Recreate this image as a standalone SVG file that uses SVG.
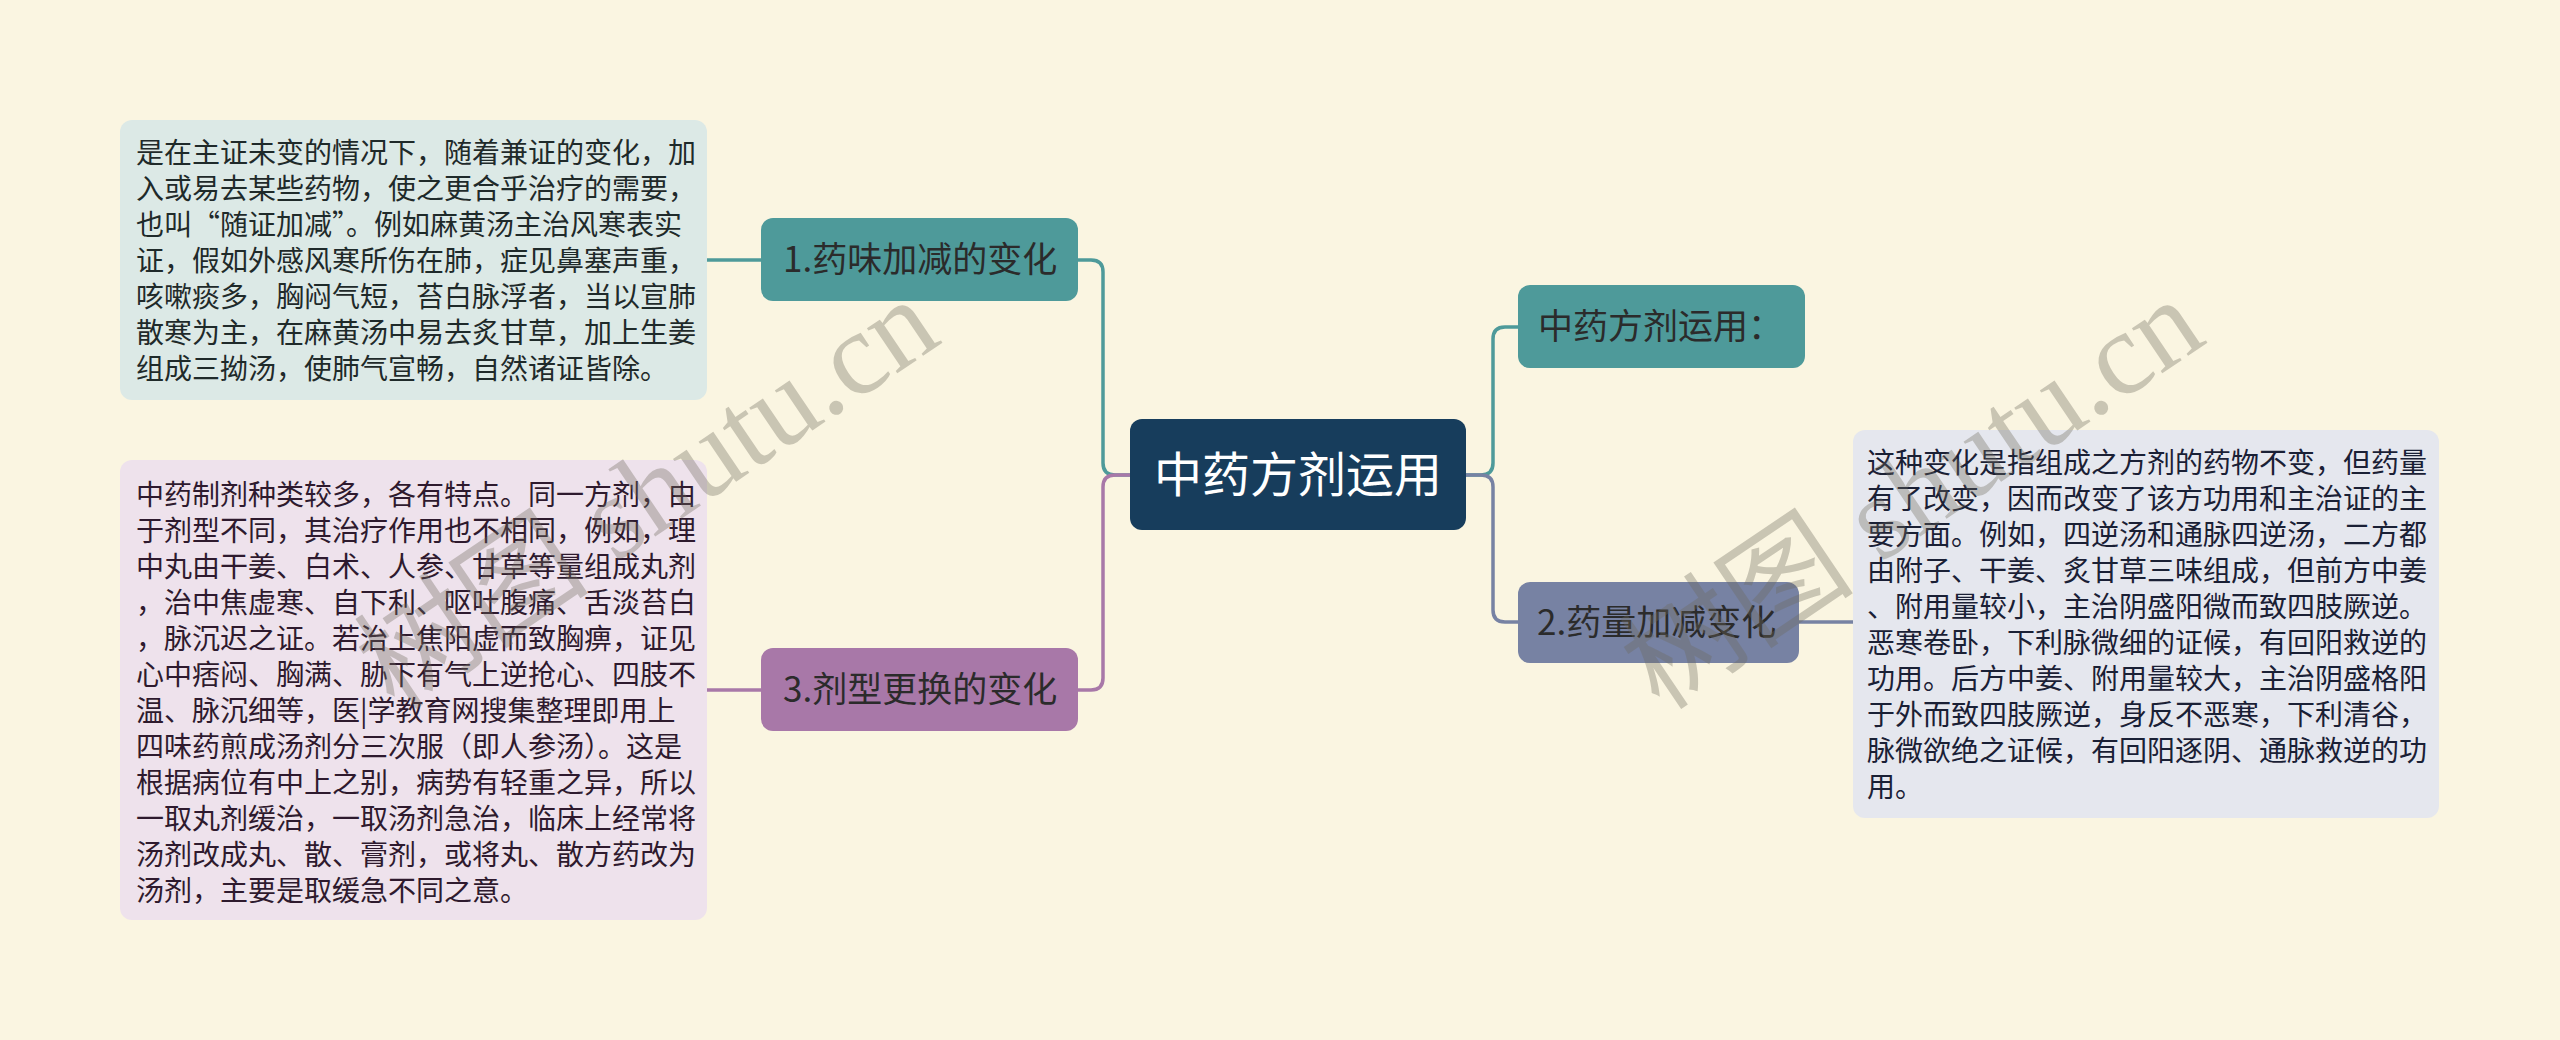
<svg xmlns="http://www.w3.org/2000/svg" width="2560" height="1040" viewBox="0 0 2560 1040">
<style>
.bg{fill:#faf5e1}
.leaf{font-family:"Noto Sans CJK SC","Noto Sans",sans-serif;font-size:28px}
.topic{font-family:"Noto Sans CJK SC","Noto Sans",sans-serif;font-size:35px;fill:#2b2b2b}
.root{font-family:"Noto Sans CJK SC","Noto Sans",sans-serif;font-size:48px;fill:#ffffff}
.conn{fill:none;stroke-width:3.5;stroke-linecap:round}
.wm{font-family:"Liberation Serif","Noto Sans CJK SC",serif;font-size:118px;fill:#6e6a5c;opacity:0.34}
</style>
<rect class="bg" x="0" y="0" width="2560" height="1040"/>
<g id="connectors">
<path class="conn" stroke="#4e9a9a" d="M1130 475 H1115 Q1103 475 1103 463 V272 Q1103 260 1091 260 H1078"/>
<path class="conn" stroke="#a878a8" d="M1130 475 H1115 Q1103 475 1103 487 V678 Q1103 690 1091 690 H1078"/>
<path class="conn" stroke="#4e9a9a" d="M1466 475 H1481 Q1493 475 1493 463 V339 Q1493 327 1505 327 H1518"/>
<path class="conn" stroke="#7782a3" d="M1466 475 H1481 Q1493 475 1493 487 V610 Q1493 622 1505 622 H1518"/>
<path class="conn" stroke="#4e9a9a" d="M761 260 H707"/>
<path class="conn" stroke="#a878a8" d="M761 690 H707"/>
<path class="conn" stroke="#7782a3" d="M1799 622 H1853"/>
</g>
<g id="leaf1">
<rect x="120" y="120" width="587" height="280" rx="12" fill="#dce9e6"/>
<text class="leaf" fill="#1f2a2a">
<tspan x="136" y="163">是在主证未变的情况下，随着兼证的变化，加</tspan>
<tspan x="136" y="199">入或易去某些药物，使之更合乎治疗的需要，</tspan>
<tspan x="136" y="235">也叫“随证加减”。例如麻黄汤主治风寒表实</tspan>
<tspan x="136" y="271">证，假如外感风寒所伤在肺，症见鼻塞声重，</tspan>
<tspan x="136" y="307">咳嗽痰多，胸闷气短，苔白脉浮者，当以宣肺</tspan>
<tspan x="136" y="343">散寒为主，在麻黄汤中易去炙甘草，加上生姜</tspan>
<tspan x="136" y="379">组成三拗汤，使肺气宣畅，自然诸证皆除。</tspan>
</text>
</g>
<g id="leaf3">
<rect x="120" y="460" width="587" height="460" rx="12" fill="#eee2ec"/>
<text class="leaf" fill="#2e1a2e">
<tspan x="136" y="505">中药制剂种类较多，各有特点。同一方剂，由</tspan>
<tspan x="136" y="541">于剂型不同，其治疗作用也不相同，例如，理</tspan>
<tspan x="136" y="577">中丸由干姜、白术、人参、甘草等量组成丸剂</tspan>
<tspan x="136" y="613">，治中焦虚寒、自下利、呕吐腹痛、舌淡苔白</tspan>
<tspan x="136" y="649">，脉沉迟之证。若治上焦阳虚而致胸痹，证见</tspan>
<tspan x="136" y="685">心中痞闷、胸满、胁下有气上逆抢心、四肢不</tspan>
<tspan x="136" y="721">温、脉沉细等，医|学教育网搜集整理即用上</tspan>
<tspan x="136" y="757">四味药煎成汤剂分三次服（即人参汤）。这是</tspan>
<tspan x="136" y="793">根据病位有中上之别，病势有轻重之异，所以</tspan>
<tspan x="136" y="829">一取丸剂缓治，一取汤剂急治，临床上经常将</tspan>
<tspan x="136" y="865">汤剂改成丸、散、膏剂，或将丸、散方药改为</tspan>
<tspan x="136" y="901">汤剂，主要是取缓急不同之意。</tspan>
</text>
</g>
<g id="leaf2">
<rect x="1853" y="430" width="586" height="388" rx="12" fill="#e5e7ee"/>
<text class="leaf" fill="#1a2035">
<tspan x="1867" y="473">这种变化是指组成之方剂的药物不变，但药量</tspan>
<tspan x="1867" y="509">有了改变，因而改变了该方功用和主治证的主</tspan>
<tspan x="1867" y="545">要方面。例如，四逆汤和通脉四逆汤，二方都</tspan>
<tspan x="1867" y="581">由附子、干姜、炙甘草三味组成，但前方中姜</tspan>
<tspan x="1867" y="617">、附用量较小，主治阴盛阳微而致四肢厥逆。</tspan>
<tspan x="1867" y="653">恶寒卷卧，下利脉微细的证候，有回阳救逆的</tspan>
<tspan x="1867" y="689">功用。后方中姜、附用量较大，主治阴盛格阳</tspan>
<tspan x="1867" y="725">于外而致四肢厥逆，身反不恶寒，下利清谷，</tspan>
<tspan x="1867" y="761">脉微欲绝之证候，有回阳逐阴、通脉救逆的功</tspan>
<tspan x="1867" y="797">用。</tspan>
</text>
</g>
<g id="topic1">
<rect x="761" y="218" width="317" height="83" rx="12" fill="#4e9a9a"/>
<text class="topic" x="783" y="272">1.药味加减的变化</text>
</g>
<g id="topic3">
<rect x="761" y="648" width="317" height="83" rx="12" fill="#a878a8"/>
<text class="topic" x="783" y="702">3.剂型更换的变化</text>
</g>
<g id="topic0">
<rect x="1518" y="285" width="287" height="83" rx="12" fill="#4e9a9a"/>
<text class="topic" x="1538" y="339">中药方剂运用：</text>
</g>
<g id="topic2">
<rect x="1518" y="582" width="281" height="81" rx="12" fill="#7782a3"/>
<text class="topic" x="1537" y="635">2.药量加减变化</text>
</g>
<g id="root">
<rect x="1130" y="419" width="336" height="111" rx="12" fill="#173d5c"/>
<text class="root" x="1298" y="492" text-anchor="middle">中药方剂运用</text>
</g>
<g id="watermarks">
<text class="wm" transform="translate(395 712) rotate(-34)">树图 shutu.cn</text>
<text class="wm" transform="translate(1660 712) rotate(-34)">树图 shutu.cn</text>
</g>
</svg>
